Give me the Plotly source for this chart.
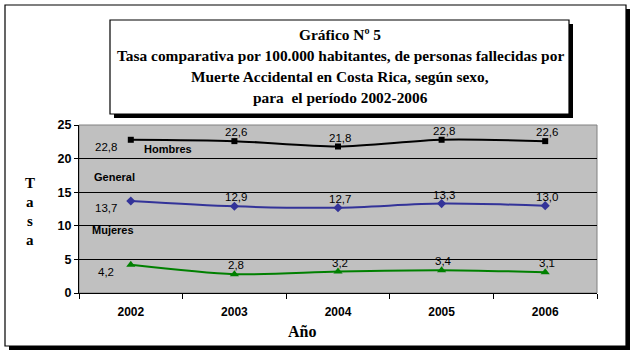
import plotly.graph_objects as go

years = ["2002", "2003", "2004", "2005", "2006"]
hombres = [22.8, 22.6, 21.8, 22.8, 22.6]
general = [13.7, 12.9, 12.7, 13.3, 13.0]
mujeres = [4.2, 2.8, 3.2, 3.4, 3.1]
series_names = ["Hombres", "General", "Mujeres"]
title_lines = ["Gráfico Nº 5",
               "Tasa comparativa por 100.000 habitantes, de personas fallecidas por",
               "Muerte Accidental en Costa Rica, según sexo,",
               "para  el período 2002-2006"]

W, H = 635, 355
L, R, T, B = 79, 38, 125, 62
PW, PH = W - L - R, H - T - B

def px(x):
    return (x - L) / PW

def py(y):
    return (H - B - y) / PH

def fmt(v):
    return f"{v:.1f}".replace(".", ",")

fig = go.Figure()
styles = [
    (hombres, "#000000", "square", 6),
    (general, "#333399", "diamond", 7),
    (mujeres, "#008000", "triangle-up", 8),
]
for (vals, col, sym, ms), name in zip(styles, series_names):
    fig.add_trace(go.Scatter(
        x=years, y=vals, mode="lines+markers", name=name,
        line=dict(color=col, width=2, shape="spline", smoothing=0.8),
        marker=dict(color=col, symbol=sym, size=ms),
        showlegend=False, hoverinfo="skip"))

ann = []
serif = "Liberation Serif, Times New Roman, serif"
sans = "Liberation Sans, Arial, sans-serif"
for vals in (hombres, general, mujeres):
    for i, v in enumerate(vals):
        if i == 0:
            xs, ys = -25, -7
        else:
            xs, ys = 2, 9
        ann.append(dict(x=i, y=v, xref="x", yref="y", text=fmt(v), showarrow=False,
                        xshift=xs, yshift=ys, font=dict(family=sans, size=11.5, color="black")))

# series name labels
for name, (cx, cy) in zip(series_names, [(168, 149), (114, 177), (113, 230)]):
    ann.append(dict(x=px(cx), y=py(cy), xref="paper", yref="paper", text=f"<b>{name}</b>",
                    showarrow=False, xanchor="center", yanchor="middle",
                    font=dict(family=sans, size=11, color="black")))

# title
for k, line in enumerate(title_lines):
    ann.append(dict(x=px(340), y=py(35 + k * 20.7), xref="paper", yref="paper",
                    text=f"<b>{line}</b>", showarrow=False, xanchor="center", yanchor="middle",
                    font=dict(family=serif, size=15.4, color="black")))

# y-axis title letters
for k, ch in enumerate("Tasa"):
    ann.append(dict(x=px(30), y=py(183 + k * 19), xref="paper", yref="paper",
                    text=f"<b>{ch}</b>", showarrow=False, xanchor="center", yanchor="middle",
                    font=dict(family=serif, size=15, color="black")))

# x-axis title
ann.append(dict(x=px(302), y=py(331), xref="paper", yref="paper", text="<b>Año</b>",
                showarrow=False, xanchor="center", yanchor="middle",
                font=dict(family=serif, size=16, color="black")))

shapes = []
def rect(x0, y0, x1, y1, fill=None, line_col=None, lw=1, layer="below"):
    d = dict(type="rect", xref="paper", yref="paper",
             x0=px(x0), x1=px(x1), y0=py(y1), y1=py(y0), layer=layer)
    d["fillcolor"] = fill if fill else "rgba(0,0,0,0)"
    d["line"] = dict(color=line_col if line_col else "rgba(0,0,0,0)", width=lw)
    return d

# outer frame with shadow
shapes.append(rect(626, 9, 630, 350, fill="black"))
shapes.append(rect(9, 346, 630, 350, fill="black"))
shapes.append(rect(5, 5, 626, 346, line_col="black", lw=1.2))
# title box with shadow
shapes.append(rect(114, 24, 573, 118, fill="black"))
shapes.append(rect(110, 20, 569, 114, fill="white", line_col="black", lw=1.2))
# plot area border (gray)
shapes.append(dict(type="rect", xref="paper", yref="paper", x0=0, x1=1, y0=0, y1=1,
                   line=dict(color="#808080", width=1), fillcolor="rgba(0,0,0,0)", layer="below"))

fig.update_layout(
    width=W, height=H,
    margin=dict(l=L, r=R, t=T, b=B, pad=0),
    paper_bgcolor="white", plot_bgcolor="#C0C0C0",
    annotations=ann, shapes=shapes,
    xaxis=dict(type="category", tickson="boundaries", ticks="outside", ticklen=5,
               tickcolor="black", showline=True, linecolor="black", linewidth=1,
               showgrid=False, zeroline=False, range=[-0.5, 4.5],
               tickfont=dict(family=sans, size=12, color="black"),
               ticklabelstandoff=8, fixedrange=True),
    yaxis=dict(range=[0, 25], dtick=5, ticks="outside", ticklen=4, tickcolor="black",
               showline=True, linecolor="black", linewidth=1,
               showgrid=True, gridcolor="black", gridwidth=1, zeroline=False,
               tickfont=dict(family=sans, size=12.5, color="black"),
               tickprefix="<b>", ticksuffix="</b>", fixedrange=True),
    font=dict(family=sans, color="black"),
)
fig.update_xaxes(tickprefix="<b>", ticksuffix="</b>")

fig.write_html("out.html", config={"displayModeBar": False})
